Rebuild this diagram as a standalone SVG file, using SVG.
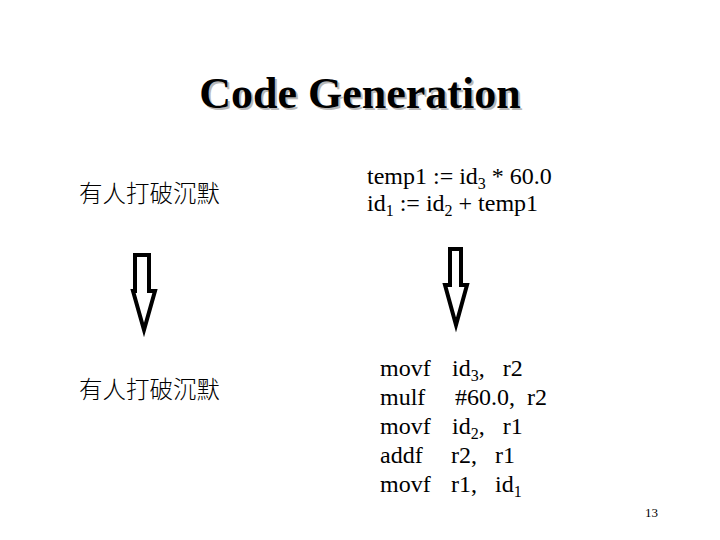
<svg xmlns="http://www.w3.org/2000/svg" width="720" height="540" viewBox="0 0 720 540">
<style>
.t{font-family:"Liberation Serif","Times New Roman",serif;font-size:24px;fill:#000;white-space:pre}
.cjk{font-family:"Noto Sans CJK TC","Noto Sans CJK SC",sans-serif;font-size:23.5px;font-weight:300;fill:#000}
.title{font-family:"Liberation Serif","Times New Roman",serif;font-size:44px;font-weight:bold}
.arr{fill:#fff;stroke:#000;stroke-width:4;stroke-linejoin:miter}
.sub{font-size:16px}
</style>
<rect width="720" height="540" fill="#fff"/>
<g id="title">
<text class="title" x="362" y="110" text-anchor="middle" fill="#b8b8b8">Code Generation</text>
<text class="title" x="360" y="108" text-anchor="middle" fill="#000">Code Generation</text>
</g>
<g id="src">
<text class="cjk" x="79" y="202">有人打破沉默</text>
</g>
<g id="dst">
<text class="cjk" x="79" y="398">有人打破沉默</text>
</g>
<g id="ir">
<text class="t" x="367" y="184">temp1 := id<tspan class="sub" dy="5">3</tspan><tspan dy="-5"> * 60.0</tspan></text>
<text class="t" x="367" y="211">id<tspan class="sub" dy="5">1</tspan><tspan dy="-5"> := id</tspan><tspan class="sub" dy="5">2</tspan><tspan dy="-5"> + temp1</tspan></text>
</g>
<g id="asm">
<text class="t" x="380" y="376">movf</text>
<text class="t" x="452" y="376">id<tspan class="sub" dy="5">3</tspan><tspan dy="-5">,   r2</tspan></text>
<text class="t" x="380" y="405">mulf</text>
<text class="t" x="455" y="405">#60.0,  r2</text>
<text class="t" x="380" y="434">movf</text>
<text class="t" x="452" y="434">id<tspan class="sub" dy="5">2</tspan><tspan dy="-5">,   r1</tspan></text>
<text class="t" x="380" y="463">addf</text>
<text class="t" x="451" y="463">r2,   r1</text>
<text class="t" x="380" y="492">movf</text>
<text class="t" x="451" y="492">r1,   id<tspan class="sub" dy="5">1</tspan></text>
</g>
<g id="connectors">
<polygon class="arr" points="135,255 149,255 149,291 155,291 144,330 133,291 135,291"/>
<polygon class="arr" points="450,249 461,249 461,285 467,285 456,325 445,285 450,285"/>
</g>
<text x="645" y="517" font-family="Liberation Serif,serif" font-size="13" fill="#000">13</text>
</svg>
